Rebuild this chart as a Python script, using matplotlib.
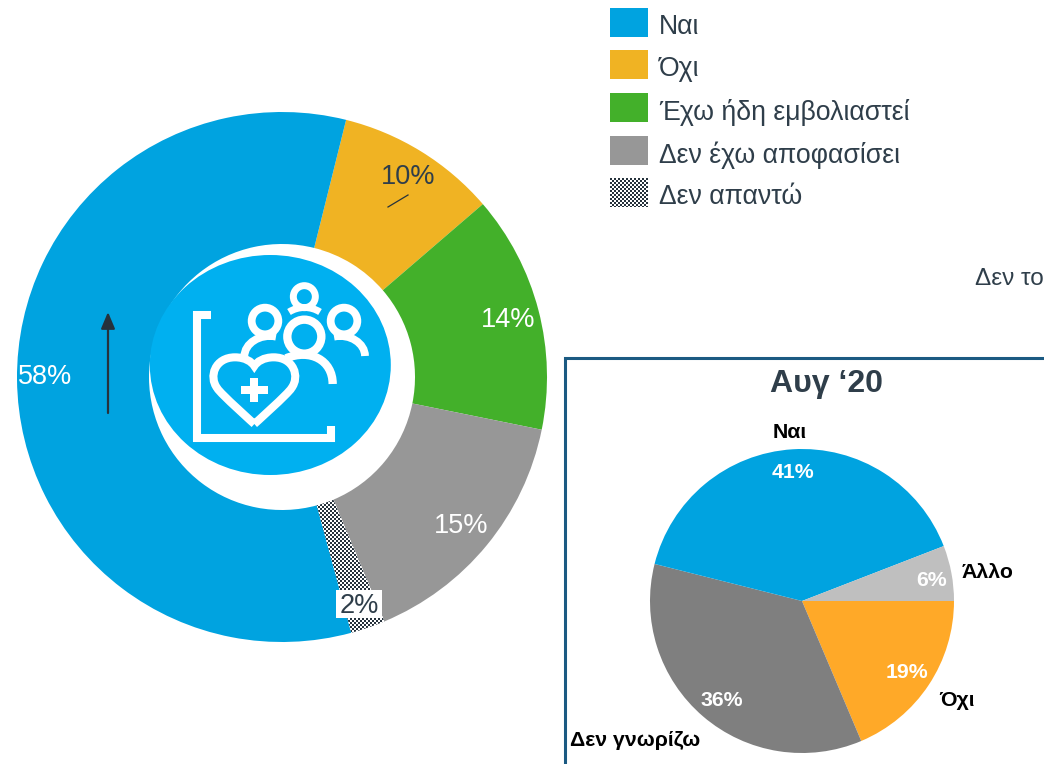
import matplotlib
matplotlib.use('Agg')
import matplotlib.pyplot as plt
import numpy as np
from matplotlib.patches import Circle, Ellipse, PathPatch, Rectangle
from matplotlib.path import Path

plt.rcParams['font.family'] = ['Liberation Sans', 'DejaVu Sans']

W, H = 1044, 764

# main donut, values estimated from the arcs, printed labels kept apart
main_labels = ['Ναι', 'Όχι', 'Έχω ήδη εμβολιαστεί', 'Δεν έχω αποφασίσει', 'Δεν απαντώ']
main_values = [58.1, 9.8, 14.5, 15.5, 2.1]
main_pct = ['58%', '10%', '14%', '15%', '2%']
main_colors = ['#00A3E0', '#F0B323', '#43B02A', '#979797', '#FFFFFF']
# order around the ring, clockwise from the Nai/Oxi border
ring_order = [1, 2, 3, 4, 0]

# small pie
aug_title = 'Αυγ ‘20'
aug_labels = ['Όχι', 'Δεν γνωρίζω', 'Ναι', 'Άλλο']
aug_values = [19, 36, 41, 6]
aug_colors = ['#FFA928', '#7F7F7F', '#00A3E0', '#BFBFBF']

TEXT = '#2F3E4A'
DARK = '#26323C'
ICON = '#00B0F0'
BOX = '#1B5A82'


def py(y):
    return H - y


def z(x, y):
    # icon coordinates measured on the zoomed crop
    return (140 + x / 3, H - (240 + y / 3))


def stroke(ax, verts, codes=None, lw=5.6):
    pts = [z(*v) for v in verts]
    ax.add_patch(PathPatch(Path(pts, codes), fc='none', ec='white', lw=lw,
                           capstyle='butt', joinstyle='miter', zorder=6))


fig = plt.figure(figsize=(W / 100, H / 100), dpi=100)
ax = fig.add_axes([0, 0, 1, 1])

wedges, _ = ax.pie([main_values[i] for i in ring_order],
                   colors=[main_colors[i] for i in ring_order],
                   center=(282, py(377)), radius=265, startangle=76, counterclock=False,
                   frame=True, wedgeprops=dict(width=132, linewidth=0))

yy, xx = np.mgrid[0:H, 0:W]
checker = ((xx // 2 + yy // 2) % 2).astype(float)
im = ax.imshow(checker, cmap=matplotlib.colors.ListedColormap([DARK, 'white']),
               extent=(0, W, 0, H), interpolation='nearest', zorder=2)
im.set_clip_path(wedges[3])

ax.pie(aug_values, colors=aug_colors, center=(802, py(601)), radius=152, startangle=0,
       counterclock=False, frame=True, wedgeprops=dict(linewidth=0))

# icon
ax.add_patch(Ellipse((270.3, py(365)), 241, 220, fc=ICON, ec='none', zorder=5))
stroke(ax, [(213, 224), (172, 224), (172, 594), (573, 594), (573, 558)], lw=5.8)
for cx, cy, r, lw in [(493, 170, 33, 5.0), (375, 243, 40, 5.6), (612, 243, 40, 5.6), (493, 290, 51, 6.0)]:
    x0, y0 = z(cx, cy)
    ax.add_patch(Circle((x0, y0), r / 3, fc='none', ec='white', lw=lw, zorder=6))
C = Path.CURVE4
M = Path.MOVETO
stroke(ax, [(447, 216), (475, 198), (512, 198), (540, 216)], [M, C, C, C], lw=5.0)
stroke(ax, [(313, 350), (313, 310), (360, 280), (408, 290)], [M, C, C, C])
stroke(ax, [(582, 290), (630, 280), (675, 310), (675, 348)], [M, C, C, C])
stroke(ax, [(438, 355), (510, 325), (578, 360), (578, 432)], [M, C, C, C], lw=6.0)
heart = [(343, 552), (343, 552), (240, 460), (232, 445), (205, 410), (225, 352), (285, 352),
         (315, 352), (335, 365), (343, 378), (351, 365), (371, 352), (401, 352),
         (461, 352), (481, 410), (454, 445), (446, 460), (343, 552), (343, 552)]
stroke(ax, heart, [M] + [C] * 18, lw=5.8)
ax.add_patch(Rectangle(z(303, 462), 80 / 3, 24 / 3, fc='white', ec='none', zorder=6))
ax.add_patch(Rectangle(z(331, 486), 24 / 3, 72 / 3, fc='white', ec='none', zorder=6))

# arrow and leader line
ax.annotate('', xy=(108, py(312)), xytext=(108, py(413)), zorder=4,
            arrowprops=dict(arrowstyle='-|>,head_width=0.42,head_length=1.0', color=DARK,
                            lw=1.6, shrinkA=0, shrinkB=0))
ax.plot([388, 408], [py(207), py(195)], color=DARK, lw=0.9, zorder=4)

# main labels
for txt, x, y, col in [(main_pct[0], 45, 377, 'white'), (main_pct[1], 408, 177, TEXT),
                       (main_pct[2], 508, 320, 'white'), (main_pct[3], 461, 526, 'white')]:
    ax.text(x, py(y), txt, color=col, fontsize=19.5, ha='center', va='center', zorder=7)
ax.add_patch(Rectangle((336, py(618)), 46, 28, fc='white', ec='none', zorder=7))
ax.text(359, py(606), main_pct[4], color=TEXT, fontsize=19.5, ha='center', va='center', zorder=8)

# legend
legend_y = [8, 50, 93, 136, 178]
for i, (lab, y) in enumerate(zip(main_labels, legend_y)):
    sw = Rectangle((610, py(y + 29)), 38, 29, fc=main_colors[i], ec='none', zorder=3)
    ax.add_patch(sw)
    if i == 4:
        im2 = ax.imshow(checker, cmap=matplotlib.colors.ListedColormap([DARK, 'white']),
                        extent=(0, W, 0, H), interpolation='nearest', zorder=4)
        im2.set_clip_path(sw)
    ax.text(659, py(y + 19), lab, color=TEXT, fontsize=19.2, ha='left', va='center')

ax.text(975, py(279), 'Δεν το', color=TEXT, fontsize=17.5, ha='left', va='center', clip_on=True)

# box round the small pie
ax.plot([565, 565, W + 5], [-5, py(358), py(358)], color=BOX, lw=2.2, solid_joinstyle='miter', zorder=3)
ax.text(826, py(384), aug_title, color=TEXT, fontsize=23, fontweight='bold', ha='center', va='center')

for txt, x, y in [('41%', 793, 472), ('6%', 932, 580), ('19%', 907, 673), ('36%', 722, 701)]:
    ax.text(x, py(y), txt, color='white', fontsize=15.3, fontweight='bold', ha='center', va='center', zorder=7)
for txt, x, y in [(aug_labels[2], 790, 433), (aug_labels[3], 988, 573), (aug_labels[0], 957, 701),
                  (aug_labels[1], 635, 740)]:
    ax.text(x, py(y), txt, color='black', fontsize=15.3, fontweight='bold', ha='center', va='center', zorder=7)

ax.set_xlim(0, W)
ax.set_ylim(0, H)
ax.set_aspect('equal')
ax.axis('off')

fig.savefig('out.png', dpi=100)
